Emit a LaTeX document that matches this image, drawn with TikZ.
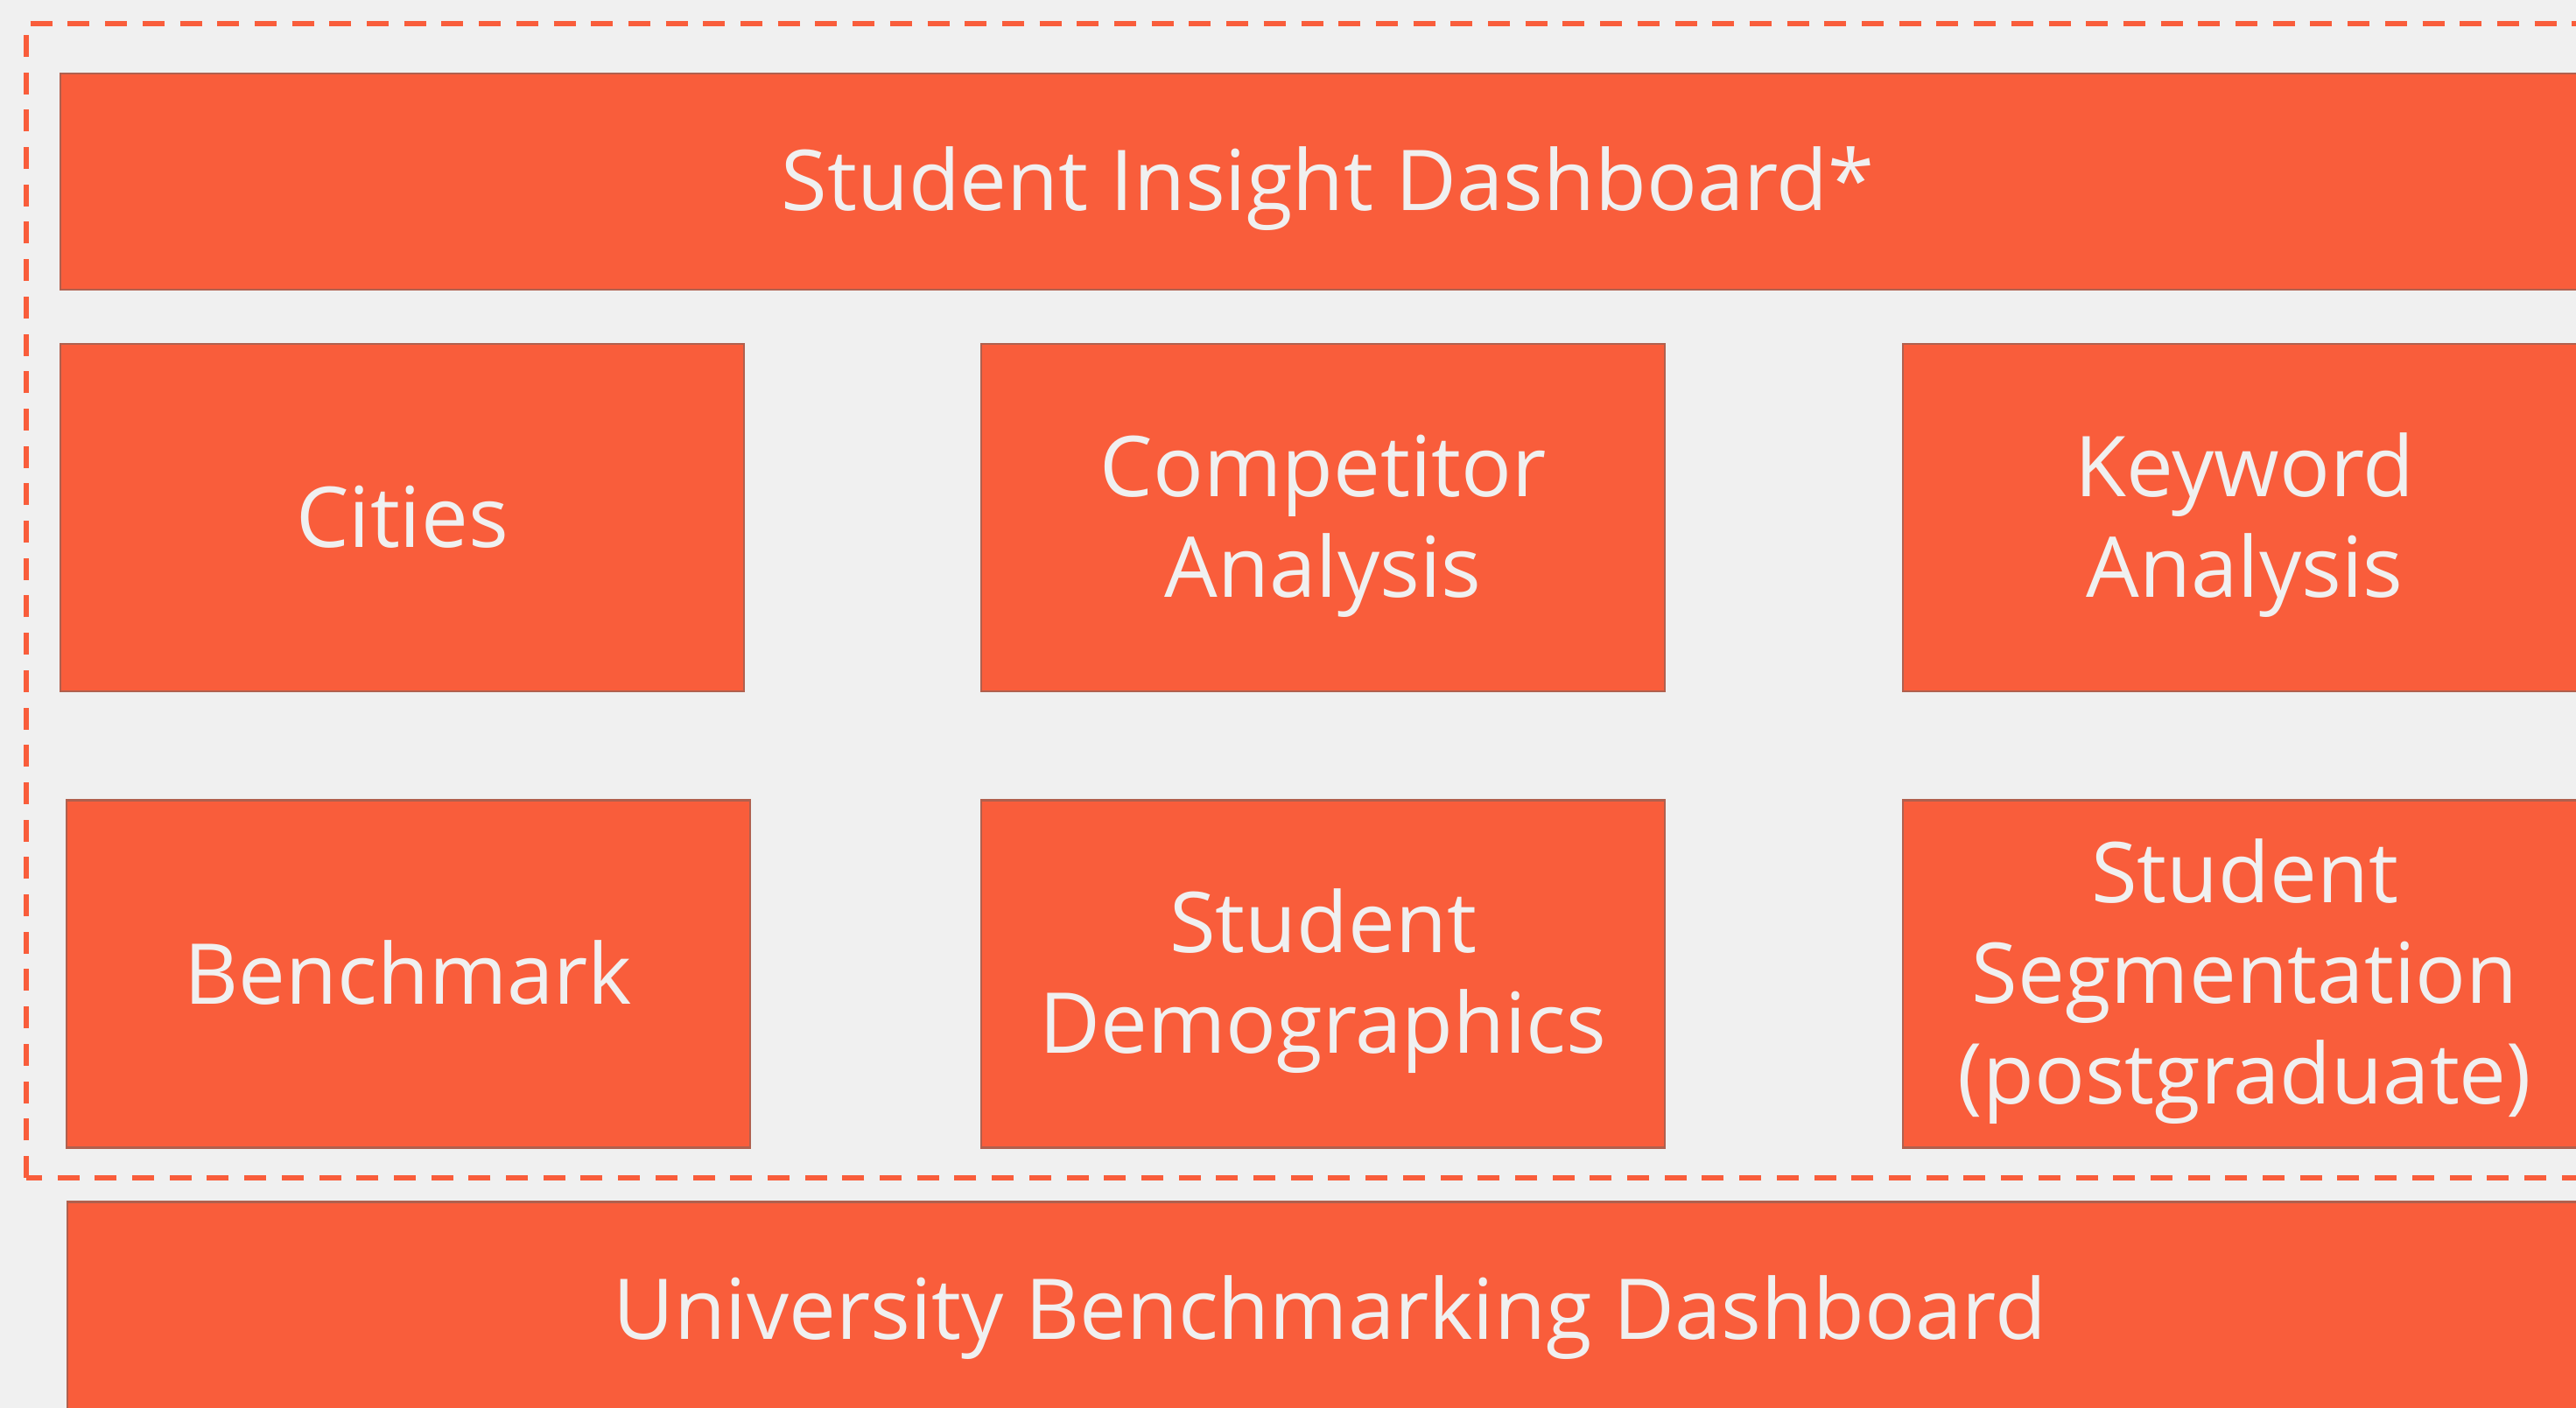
\documentclass[tikz,border=0pt]{standalone}
\usepackage{fontspec}
\setmainfont{Open Sans}
\usetikzlibrary{positioning}

\definecolor{tileorange}{HTML}{F95D3B}
\definecolor{tileedge}{HTML}{B0604E}
\definecolor{tiletext}{HTML}{F0F0F0}
\definecolor{pagebg}{HTML}{F0F0F0}

% strut that puts the middle of the capitals on the node centre
\newcommand{\capstrut}{\rule[-6pt]{0pt}{31.5pt}}

\tikzset{
    tile/.style={draw=tileedge, line width=0.8pt, fill=tileorange, text=tiletext, align=center,
        font=\fontsize{27.3}{32.7}\selectfont, inner sep=0pt},
    smalltile/.style={tile, minimum width=7.81cm, minimum height=3.97cm},
    widetile/.style={tile, minimum height=2.47cm},
    groupframe/.style={draw=tileorange, line width=1.85pt, dash pattern=on 0.25cm off 0.177cm}
}

\begin{document}
\begin{tikzpicture}
    \useasboundingbox (0,0) rectangle (29.43,16.09);
    \clip (0,0) rectangle (29.43,16.09);
    \fill[pagebg] (0,0) rectangle (29.43,16.09);

    % Dashed group frame
    \draw[groupframe] (0.30,2.63) rectangle (29.9,15.82);

    % Top dashboard
    \node (insight) [widetile, minimum width=28.96cm] at (15.17,14.015) {\capstrut Student Insight Dashboard*};

    % First row
    \node (cities) [smalltile] at (4.595,10.175) {\capstrut Cities};
    \node (competitor) [smalltile] at (15.115,10.175) {\capstrut Competitor\\\capstrut Analysis};
    \node (keyword) [smalltile] at (25.645,10.175) {\capstrut Keyword\\\capstrut Analysis};

    % Second row
    \node (benchmark) [smalltile] at (4.665,4.96) {\capstrut Benchmark};
    \node (demographics) [smalltile] at (15.115,4.96) {\capstrut Student\\\capstrut Demographics};
    \node (segmentation) [smalltile] at (25.645,4.96) {\capstrut Student\\\capstrut Segmentation\\\capstrut (postgraduate)};

    % Bottom dashboard
    \node (university) [widetile, minimum width=28.84cm] at (15.19,1.12) {\capstrut University Benchmarking Dashboard};
\end{tikzpicture}
\end{document}
